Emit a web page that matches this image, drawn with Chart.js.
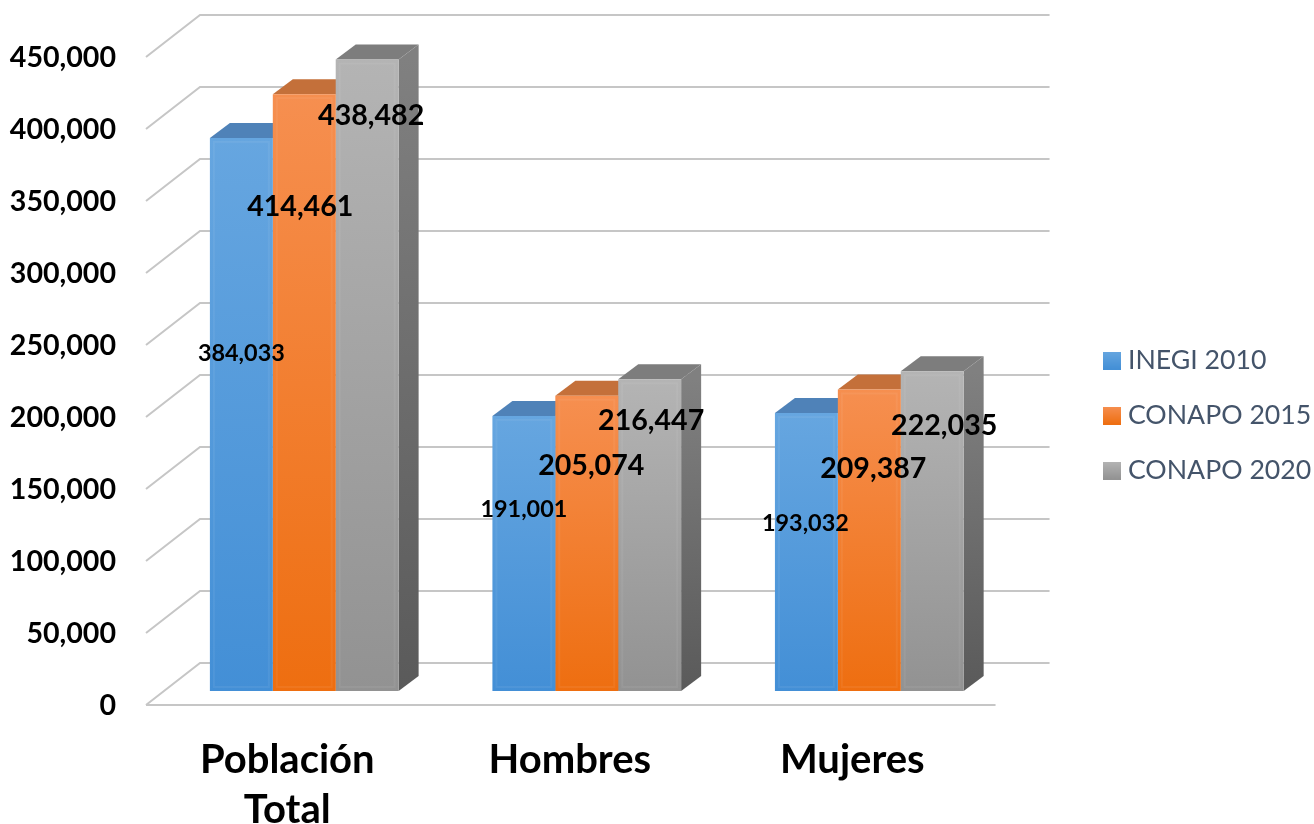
<!DOCTYPE html>
<html>
<head>
<meta charset="utf-8">
<style>html,body{margin:0;padding:0;background:#fff}canvas{display:block}</style>
<script src="https://cdn.jsdelivr.net/npm/chart.js@4"></script>
</head>
<body>
<canvas id="c" width="1314" height="824"></canvas>
<script>
const categories = [['Población','Total'],'Hombres','Mujeres'];
const seriesNames = ['INEGI 2010','CONAPO 2015','CONAPO 2020'];
const inegi2010 = [384033,191001,193032];
const conapo2015 = [414461,205074,209387];
const conapo2020 = [438482,216447,222035];
const seriesValues = [inegi2010,conapo2015,conapo2020];

// styling
const FONT='Lato';
const frontGrad=[['#66a6e0','#438fd6'],['#f68f50','#ee6e10'],['#b4b4b4','#929292']];
const topColor=['#4f82b8','#c4703a','#7d7d7d'];
const sideGrad=[['#4f82b8','#3a6a9a'],['#b5602a','#a04f18'],['#808080','#5a5a5a']];
const DX=20,DY=15;
const labelNudge=[ // [dx, dy from bar top] per series, per category
 [[0,215],[0,93],[-1,110]],
 [[-4,113],[4.5,70],[4,79]],
 [[4,56],[1.5,41],[12,54]]
];
const labelSize=[23.4,28.6,28.6];

function vGrad(ctx,y0,y1,stops){
  const g=ctx.createLinearGradient(0,y0,0,y1);g.addColorStop(0,stops[0]);g.addColorStop(1,stops[1]);return g;
}
function swatch(stops){
  const s=document.createElement('canvas');s.width=18;s.height=18;
  const x=s.getContext('2d');x.fillStyle=vGrad(x,0,18,stops);x.fillRect(0,0,18,18);return s;
}
const swatches=frontGrad.map(swatch);

const scene3d={
  id:'scene3d',
  beforeDatasetsDraw(chart){
    const {ctx,chartArea:a,scales:{y}}=chart;
    ctx.save();
    ctx.lineWidth=2;ctx.strokeStyle='#c6c6c6';
    y.ticks.forEach(t=>{
      const p=y.getPixelForValue(t.value);
      ctx.beginPath();
      ctx.moveTo(a.left-17,p+14);
      ctx.lineTo(a.left+37,p-28);
      ctx.lineTo(a.right+39,p-28);
      ctx.stroke();
    });
    const p0=y.getPixelForValue(0);
    ctx.beginPath();ctx.moveTo(a.left-17,p0+14);ctx.lineTo(a.right-15,p0+14);ctx.stroke();
    chart.data.datasets.forEach((ds,di)=>{
      chart.getDatasetMeta(di).data.forEach(b=>{
        const l=b.x-b.width/2,r=b.x+b.width/2;
        ctx.fillStyle=vGrad(ctx,b.y,b.base,sideGrad[di]);
        ctx.beginPath();ctx.moveTo(r,b.y);ctx.lineTo(r+DX,b.y-DY);ctx.lineTo(r+DX,b.base-DY);ctx.lineTo(r,b.base);ctx.closePath();ctx.fill();
        ctx.fillStyle=topColor[di];
        ctx.beginPath();ctx.moveTo(l,b.y);ctx.lineTo(l+DX,b.y-DY);ctx.lineTo(r+DX,b.y-DY);ctx.lineTo(r,b.y);ctx.closePath();ctx.fill();
      });
    });
    ctx.restore();
  },
  afterDatasetsDraw(chart){
    const {ctx}=chart;
    ctx.save();
    // soft inner bevel on each front face
    ctx.strokeStyle='rgba(255,255,255,0.06)';ctx.lineWidth=2;
    chart.data.datasets.forEach((ds,di)=>{
      chart.getDatasetMeta(di).data.forEach(b=>{
        ctx.strokeRect(b.x-b.width/2+4,b.y+4,b.width-8,b.base-b.y-8);
      });
    });
    ctx.fillStyle='#000';ctx.textAlign='center';ctx.textBaseline='middle';
    chart.data.datasets.forEach((ds,di)=>{
      ctx.font='bold '+labelSize[di]+'px '+FONT;
      chart.getDatasetMeta(di).data.forEach((b,i)=>{
        const n=labelNudge[di][i];
        ctx.fillText(ds.data[i].toLocaleString('en-US'),b.x+n[0],b.y+n[1]);
      });
    });
    ctx.restore();
  }
};

new Chart(document.getElementById('c'),{
  type:'bar',
  data:{
    labels:categories,
    datasets:seriesNames.map((n,i)=>({
      label:n,
      data:seriesValues[i],
      barPercentage:1,
      categoryPercentage:0.668,
      borderWidth:0,
      backgroundColor(c){
        const s=c.chart.scales.y;
        if(!s||c.raw==null)return frontGrad[i][1];
        return vGrad(c.chart.ctx,s.getPixelForValue(c.raw),s.getPixelForValue(0),frontGrad[i]);
      }
    }))
  },
  options:{
    responsive:false,
    animation:false,
    layout:{padding:{top:7,bottom:0,left:0,right:-7.3}},
    plugins:{
      title:{display:false},
      tooltip:{enabled:false},
      legend:{
        position:'right',
        align:'center',
        maxWidth:300,
        labels:{
          usePointStyle:true,
          pointStyleWidth:6,
          boxWidth:26.7,
          boxHeight:26.7,
          padding:28.3,
          color:'#44546a',
          font:{family:FONT,size:26.7},
          generateLabels(){
            return seriesNames.map((n,i)=>({text:n,pointStyle:swatches[i],fontColor:'#44546a',datasetIndex:i,lineWidth:0,strokeStyle:'transparent'}));
          }
        }
      }
    },
    scales:{
      x:{
        grid:{display:false},border:{display:false},
        afterFit(s){s.height=133;s.paddingLeft=0;s.paddingRight=0;},
        ticks:{
          maxRotation:0,minRotation:0,
          labelOffset:-17,padding:36,color:'#000',
          font:{family:FONT,size:40,weight:'bold',lineHeight:1.25}
        }
      },
      y:{
        min:0,max:450000,
        grid:{display:false,drawTicks:false},border:{display:false},
        afterFit(s){s.width=163;s.paddingTop=43;s.paddingBottom=0;},
        ticks:{
          stepSize:50000,labelOffset:15,padding:47,color:'#000',
          font:{family:FONT,size:28.6,weight:'bold'},
          callback:v=>v.toLocaleString('en-US')
        }
      },
      y2:{
        position:'right',display:true,min:0,max:1,
        grid:{display:false,drawTicks:false},border:{display:false},
        ticks:{display:false},
        afterFit(s){s.width=69.7;s.paddingTop=0;s.paddingBottom=0;}
      }
    }
  },
  plugins:[scene3d]
});
</script>
</body>
</html>
